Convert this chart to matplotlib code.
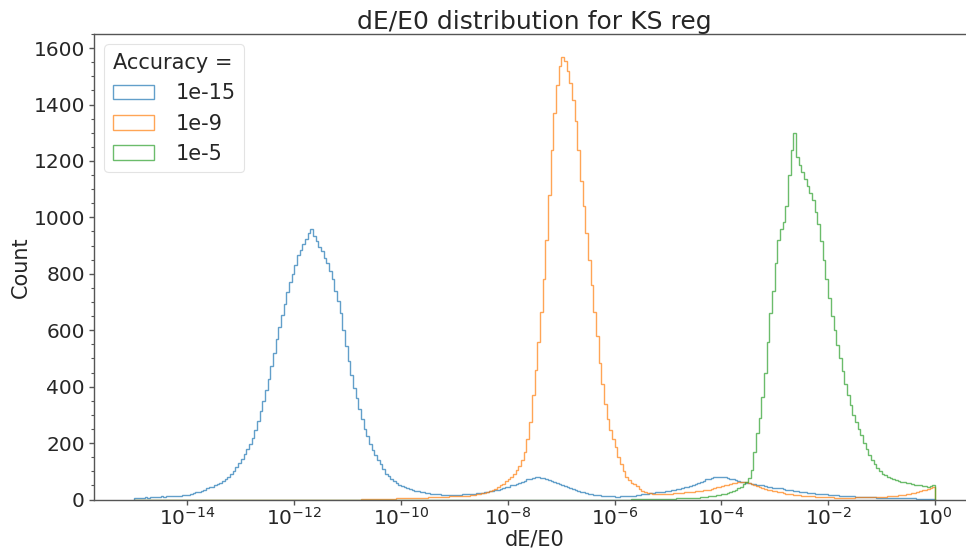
import numpy as np
import matplotlib.pyplot as plt
from matplotlib.ticker import MultipleLocator

# log10 bin edges, 0.05 decade wide, from 1e-15 to 1
log_edges = np.linspace(-15, 0, 301)

# counts per bin for each accuracy setting, one row per decade
acc_1e15 = [
    4, 6, 5, 7, 8, 7, 9, 8, 10, 9, 11, 10, 12, 11, 13, 12, 14, 13, 15, 16,
    17, 19, 22, 25, 28, 31, 35, 39, 43, 46, 50, 54, 57, 64, 72, 80, 90, 102, 115, 128,
    142, 160, 178, 198, 218, 245, 278, 312, 350, 388, 428, 472, 520, 568, 612, 655, 692, 735, 770, 800,
    830, 868, 885, 905, 925, 945, 958, 935, 915, 895, 880, 855, 838, 810, 780, 740, 705, 660, 600, 545,
    490, 440, 395, 360, 320, 285, 250, 225, 198, 176, 158, 140, 125, 108, 92, 82, 74, 66, 58, 52,
    48, 43, 40, 37, 34, 31, 29, 28, 26, 24, 22, 21, 20, 19, 18, 17, 17, 16, 17, 16,
    16, 17, 17, 18, 19, 20, 21, 21, 22, 23, 24, 26, 27, 29, 31, 33, 35, 38, 41, 44,
    46, 50, 52, 56, 59, 63, 67, 71, 74, 76, 79, 80, 77, 75, 73, 70, 66, 62, 58, 54,
    51, 48, 45, 42, 38, 35, 31, 28, 26, 23, 21, 19, 17, 16, 15, 14, 13, 12, 11, 11,
    10, 10, 11, 11, 11, 12, 13, 14, 15, 17, 18, 20, 21, 22, 24, 25, 26, 27, 28, 29,
    30, 32, 34, 36, 38, 41, 43, 45, 48, 51, 55, 59, 63, 67, 71, 74, 76, 78, 80, 79,
    79, 78, 76, 74, 71, 68, 66, 63, 61, 59, 57, 55, 54, 53, 52, 50, 48, 46, 44, 42,
    41, 40, 39, 37, 35, 34, 32, 31, 29, 28, 27, 26, 24, 23, 22, 21, 20, 19, 18, 18,
    17, 16, 15, 15, 14, 13, 13, 12, 11, 11, 10, 10, 9, 9, 9, 8, 8, 8, 7, 7,
    7, 6, 6, 6, 5, 5, 5, 5, 4, 4, 4, 4, 4, 3, 3, 3, 3, 3, 3, 3,
]

acc_1e9 = [0] * 80 + [
    0, 0, 0, 0, 0, 1, 1, 1, 1, 1, 2, 2, 2, 2, 3, 3, 3, 3, 4, 4,
    4, 5, 5, 5, 6, 6, 6, 7, 7, 7, 8, 8, 8, 9, 9, 9, 10, 10, 11, 11,
    12, 12, 13, 13, 14, 14, 15, 16, 18, 20, 22, 24, 26, 29, 33, 38, 44, 50, 56, 64,
    72, 80, 92, 105, 120, 140, 170, 215, 275, 370, 460, 560, 665, 780, 920, 1080, 1240, 1370, 1470, 1535,
    1570, 1555, 1520, 1475, 1415, 1340, 1240, 1130, 1040, 945, 850, 760, 665, 580, 485, 410, 340, 285, 245, 215,
    185, 150, 125, 100, 80, 68, 60, 55, 48, 38, 31, 27, 24, 22, 20, 19, 18, 19, 20, 20,
    21, 21, 22, 23, 23, 24, 25, 26, 27, 28, 29, 30, 31, 32, 33, 35, 37, 40, 43, 46,
    49, 51, 53, 55, 57, 59, 61, 62, 63, 62, 60, 56, 51, 47, 44, 41, 38, 35, 33, 31,
    29, 27, 25, 23, 21, 20, 19, 17, 16, 15, 14, 13, 12, 11, 11, 10, 10, 9, 9, 8,
    8, 8, 7, 7, 7, 7, 7, 7, 7, 7, 8, 8, 8, 8, 8, 8, 9, 9, 9, 9,
    10, 10, 11, 12, 13, 14, 15, 16, 17, 18, 20, 22, 24, 26, 29, 32, 35, 38, 42, 46,
]

acc_1e5 = [0] * 180 + [
    0, 0, 0, 0, 0, 0, 1, 1, 1, 1, 1, 1, 1, 2, 2, 2, 2, 2, 2, 3,
    3, 3, 3, 4, 4, 4, 5, 5, 6, 6, 7, 7, 8, 9, 10, 11, 12, 14, 15, 17,
    19, 21, 24, 27, 30, 35, 40, 46, 54, 62, 75, 105, 170, 235, 290, 365, 450, 560, 660, 740,
    840, 920, 960, 985, 1040, 1150, 1240, 1300, 1215, 1185, 1160, 1135, 1110, 1085, 1060, 1020, 975, 915, 850, 780,
    715, 650, 600, 548, 500, 455, 410, 370, 335, 300, 275, 250, 228, 200, 178, 158, 140, 125, 110, 100,
    92, 86, 80, 76, 72, 69, 66, 63, 61, 59, 57, 55, 53, 52, 50, 49, 47, 46, 47, 50,
]

labels = ["1e-15", "1e-9", "1e-5"]
series = [acc_1e15, acc_1e9, acc_1e5]
colors = ["#1f77b4", "#ff7f0e", "#2ca02c"]

edges = 10 ** log_edges
centers = np.sqrt(edges[:-1] * edges[1:])

text_col = "#262626"
edge_col = "#555555"
plt.rcParams["font.family"] = ["DejaVu Sans"]
plt.rcParams["text.color"] = text_col
plt.rcParams["axes.labelcolor"] = text_col
plt.rcParams["xtick.color"] = text_col
plt.rcParams["ytick.color"] = text_col

fig = plt.figure(figsize=(9.66, 5.56), dpi=100)
ax = fig.add_axes([94 / 966, 56.5 / 556, 881 / 966, 465.5 / 556])

for lab, vals, col in zip(labels, series, colors):
    ax.hist(centers, bins=edges, weights=vals, histtype="step",
            color=col, alpha=0.7, linewidth=1.0, label=lab)

ax.set_xscale("log")
ax.set_xlim(10 ** -15.75, 10 ** 0.75)
ax.set_ylim(0, 1650)
ax.yaxis.set_minor_locator(MultipleLocator(50))

for sp in ax.spines.values():
    sp.set_color(edge_col)
    sp.set_linewidth(1.0)

ax.tick_params(axis="both", which="major", labelsize=14.5, length=3.5,
               width=1, color=edge_col)
ax.tick_params(axis="x", which="major", pad=2)
ax.tick_params(axis="y", which="major", pad=3)
ax.tick_params(axis="both", which="minor", length=2.5, width=0.8, color=edge_col)

ax.set_title("dE/E0 distribution for KS reg", fontsize=18, pad=2)
ax.set_xlabel("dE/E0", fontsize=15, labelpad=0)
ax.set_ylabel("Count", fontsize=15, labelpad=2)

leg = ax.legend(title="Accuracy =", loc="upper left", fontsize=15,
                title_fontsize=15, frameon=True, fancybox=True,
                borderpad=0.4, handlelength=2.0, handletextpad=1.0,
                labelspacing=0.5)
leg.get_frame().set_edgecolor("#dddddd")
leg.get_frame().set_linewidth(0.8)
leg._legend_box.align = "left"

fig.savefig("out.png", dpi=100)
